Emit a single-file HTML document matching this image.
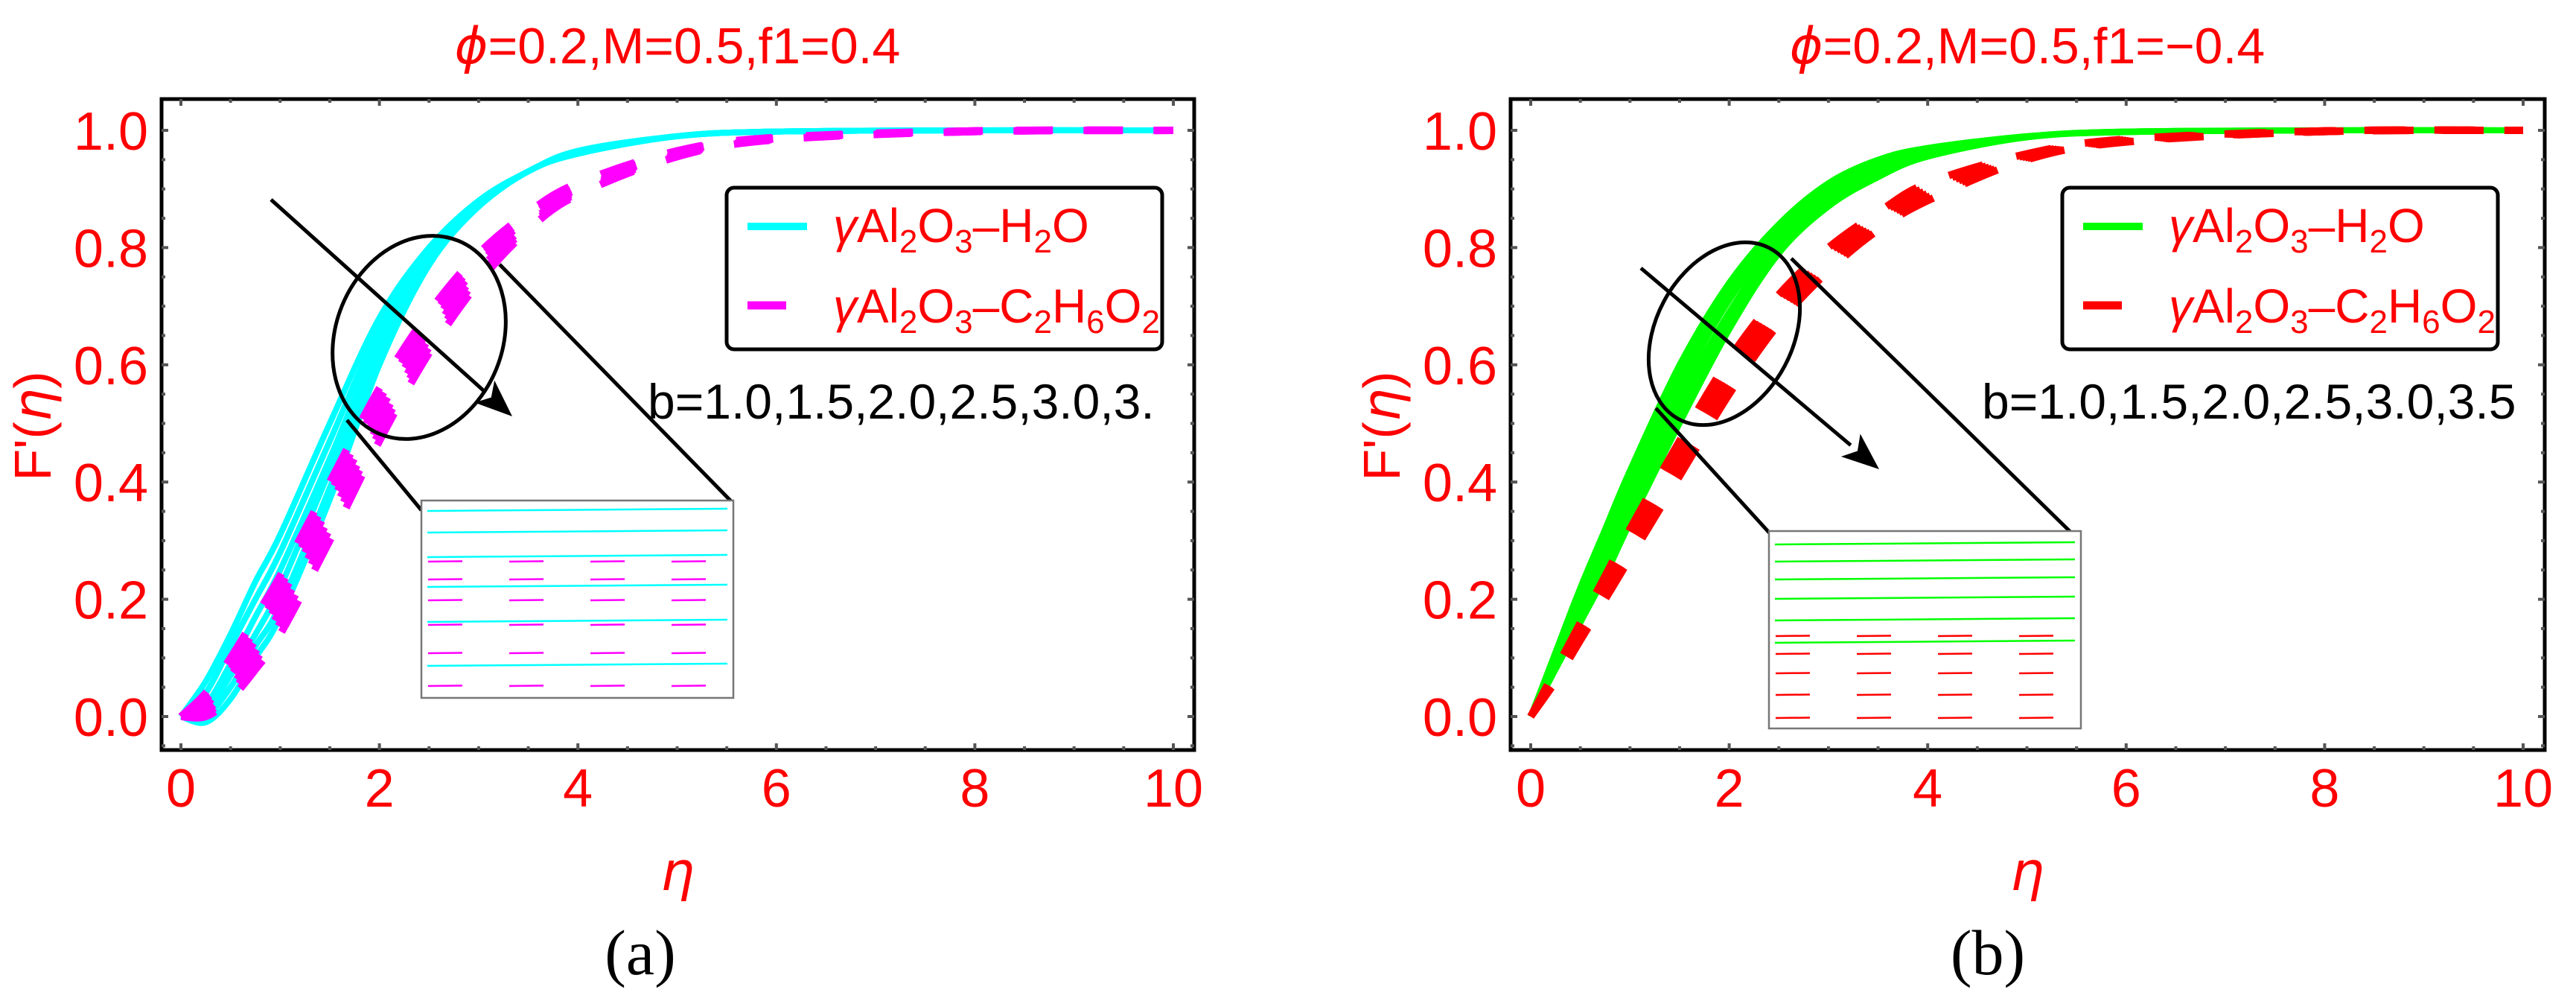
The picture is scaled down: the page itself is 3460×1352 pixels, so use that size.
<!DOCTYPE html>
<html><head><meta charset="utf-8"><style>
html,body{margin:0;padding:0;background:#fff;}
svg{display:block;font-family:"Liberation Sans",sans-serif;}
</style></head><body>
<svg id="fig" xmlns="http://www.w3.org/2000/svg" width="3460" height="1352" viewBox="0 0 3460 1352">
<rect width="3460" height="1352" fill="#fff"/>
</svg>
<script>
// ---- data ----
const etaGrid = [0,0.25,0.5,0.75,1,1.5,2,2.5,3,3.5,4,5,6,8,10];
const bValues = ["1.0","1.5","2.0","2.5","3.0","3.5"];
const cyanA = [
 [0,0.06,0.14,0.23,0.31,0.50,0.68,0.80,0.88,0.93,0.965,0.99,0.998,1,1],
 [0,0.04,0.12,0.20,0.28,0.47,0.66,0.79,0.875,0.93,0.963,0.99,0.998,1,1],
 [0,0.02,0.09,0.17,0.25,0.44,0.64,0.785,0.872,0.93,0.962,0.99,0.998,1,1],
 [0,0.01,0.07,0.14,0.22,0.42,0.62,0.78,0.87,0.93,0.961,0.99,0.998,1,1],
 [0,0.0,0.05,0.12,0.19,0.39,0.61,0.775,0.87,0.93,0.96,0.99,0.998,1,1],
 [0,-0.01,0.03,0.10,0.17,0.37,0.60,0.77,0.87,0.93,0.96,0.99,0.998,1,1]];
const magentaA = [
 [0,0.04,0.10,0.17,0.24,0.40,0.56,0.69,0.79,0.86,0.91,0.965,0.988,0.999,1],
 [0,0.03,0.08,0.15,0.22,0.38,0.54,0.675,0.78,0.855,0.905,0.963,0.987,0.999,1],
 [0,0.02,0.07,0.13,0.20,0.36,0.52,0.66,0.77,0.85,0.90,0.961,0.986,0.999,1],
 [0,0.01,0.05,0.11,0.18,0.34,0.50,0.645,0.76,0.84,0.897,0.959,0.985,0.998,1],
 [0,0.005,0.04,0.095,0.16,0.32,0.485,0.63,0.75,0.835,0.893,0.957,0.985,0.998,1],
 [0,0.0,0.03,0.08,0.14,0.30,0.47,0.62,0.74,0.83,0.89,0.955,0.984,0.998,1]];
const greenB = [
 [0,0.11,0.22,0.32,0.42,0.60,0.74,0.84,0.91,0.95,0.97,0.99,0.998,1,1],
 [0,0.105,0.21,0.305,0.40,0.58,0.725,0.83,0.90,0.943,0.967,0.99,0.998,1,1],
 [0,0.10,0.20,0.29,0.385,0.56,0.71,0.82,0.893,0.937,0.964,0.989,0.998,1,1],
 [0,0.095,0.185,0.27,0.365,0.54,0.69,0.81,0.885,0.931,0.961,0.989,0.997,1,1],
 [0,0.088,0.17,0.255,0.345,0.52,0.675,0.80,0.877,0.925,0.958,0.988,0.997,1,1],
 [0,0.08,0.16,0.24,0.33,0.50,0.66,0.79,0.87,0.92,0.955,0.988,0.997,1,1]];
const redB = [
 [0,0.08,0.16,0.24,0.32,0.47,0.61,0.72,0.80,0.86,0.91,0.96,0.985,0.999,1],
 [0,0.076,0.154,0.232,0.31,0.458,0.598,0.71,0.792,0.854,0.904,0.958,0.984,0.999,1],
 [0,0.072,0.148,0.224,0.30,0.446,0.586,0.70,0.784,0.848,0.898,0.956,0.983,0.999,1],
 [0,0.068,0.142,0.216,0.29,0.434,0.574,0.69,0.776,0.842,0.892,0.954,0.982,0.998,1],
 [0,0.064,0.136,0.208,0.28,0.422,0.562,0.68,0.768,0.836,0.886,0.952,0.981,0.998,1],
 [0,0.06,0.13,0.20,0.27,0.41,0.55,0.67,0.76,0.83,0.88,0.95,0.98,0.998,1]];
const xTicks = [0,2,4,6,8,10];
const yTicks = ["0.0","0.2","0.4","0.6","0.8","1.0"];

const NS="http://www.w3.org/2000/svg";
const svg=document.getElementById('fig');
function mk(tag,attrs,parent){const e=document.createElementNS(NS,tag);for(const k in attrs)e.setAttribute(k,attrs[k]);(parent||svg).appendChild(e);return e;}

function catmull(pts){let d="M"+pts[0][0].toFixed(1)+","+pts[0][1].toFixed(1);
 for(let i=0;i<pts.length-1;i++){const p0=pts[Math.max(0,i-1)],p1=pts[i],p2=pts[i+1],p3=pts[Math.min(pts.length-1,i+2)];
  const c1=[p1[0]+(p2[0]-p0[0])/6,p1[1]+(p2[1]-p0[1])/6],c2=[p2[0]-(p3[0]-p1[0])/6,p2[1]-(p3[1]-p1[1])/6];
  d+="C"+c1[0].toFixed(1)+","+c1[1].toFixed(1)+" "+c2[0].toFixed(1)+","+c2[1].toFixed(1)+" "+p2[0].toFixed(1)+","+p2[1].toFixed(1);}
 return d;}

const GREEK='style="font-family:\'DejaVu Sans\',sans-serif;font-style:italic"';
function panel(cfg){
 const g=mk('g',{});
 
 
 const x0=cfg.x0,x10=cfg.x10,y0=962,y1=175;
 const X=v=>x0+(x10-x0)*v/10, Y=v=>y0+(y1-y0)*v;
 const t=mk('text',{x:cfg.titleX,y:85,'font-size':68,fill:'#f00','text-anchor':'middle'},g);
 
 
 t.innerHTML='<tspan '+GREEK+'>ϕ</tspan>'+cfg.title;
 const cg=mk('g',{},g);
 
 
 cfg.solid.forEach((s,i)=>{const p=mk('path',{d:catmull(etaGrid.map((e,j)=>[X(e),Y(s[j])])),fill:'none',stroke:cfg.c1,'stroke-width':8},cg);
  
  });
 cfg.dashed.forEach((s,i)=>{const p=mk('path',{d:catmull(etaGrid.map((e,j)=>[X(e),Y(s[j])])),fill:'none',stroke:cfg.c2,'stroke-width':10,'stroke-dasharray':'48 46'},cg);
  
  });
 const fr=mk('rect',{x:cfg.fl,y:133,width:cfg.fr-cfg.fl,height:1007-133,fill:'none',stroke:'#000','stroke-width':5},g);
 
 
 for(let v=0;v<=10.001;v+=0.5){const maj=Math.abs(v-Math.round(v/2)*2)<1e-6;const L=maj?9:5;
  mk('line',{x1:X(v),x2:X(v),y1:1007,y2:1007-L,stroke:'#555','stroke-width':4},g);
  mk('line',{x1:X(v),x2:X(v),y1:133,y2:133+L,stroke:'#555','stroke-width':4},g);}
 for(let k=-1;k<=21;k++){const v=k*0.05;const yy=Y(v);if(yy<136||yy>1004)continue;const maj=k%4===0;const L=maj?9:5;
  mk('line',{x1:cfg.fl,x2:cfg.fl+L,y1:yy,y2:yy,stroke:'#555','stroke-width':4},g);
  mk('line',{x1:cfg.fr,x2:cfg.fr-L,y1:yy,y2:yy,stroke:'#555','stroke-width':4},g);}
 xTicks.forEach(v=>{const t=mk('text',{x:X(v),y:1083,'font-size':72,fill:'#f00','text-anchor':'middle'},g);t.textContent=v;
  
  });
 yTicks.forEach(v=>{const t=mk('text',{x:cfg.fl-18,y:Y(+v)+26,'font-size':72,fill:'#f00','text-anchor':'end'},g);t.textContent=v;
  
  });
 const xl=mk('text',{x:cfg.titleX,y:1195,'font-size':72,fill:'#f00','text-anchor':'middle',style:"font-family:'DejaVu Sans',sans-serif;font-style:italic"},g);xl.textContent='η';
 
 
 const yl=mk('text',{x:0,y:0,'font-size':70,fill:'#f00','text-anchor':'middle',transform:`translate(${cfg.ylX},572) rotate(-90)`},g);
 yl.innerHTML='F\'(<tspan '+GREEK+'>η</tspan>)';
 
 
 const cap=mk('text',{x:cfg.capX,y:1308,'font-size':86,fill:'#000','text-anchor':'middle',style:"font-family:'Liberation Serif',serif"},g);cap.textContent=cfg.cap;
 
 
 const lg=mk('g',{},g);
 
 
 mk('rect',{x:cfg.lx,y:252,width:585,height:217,rx:10,fill:'#fff',stroke:'#000','stroke-width':5},lg);
 mk('line',{x1:cfg.lx+28,x2:cfg.lx+108,y1:304,y2:304,stroke:cfg.c1,'stroke-width':10},lg);
 mk('line',{x1:cfg.lx+28,x2:cfg.lx+80,y1:410,y2:410,stroke:cfg.c2,'stroke-width':11},lg);
 const l1=mk('text',{x:cfg.lx+143,y:325,'font-size':64,fill:'#f00'},lg);
 l1.innerHTML='<tspan font-style="italic">γ</tspan>Al<tspan font-size="44" dy="14">2</tspan><tspan dy="-14">O</tspan><tspan font-size="44" dy="14">3</tspan><tspan dy="-14">–H</tspan><tspan font-size="44" dy="14">2</tspan><tspan dy="-14">O</tspan>';
 
 
 const l2=mk('text',{x:cfg.lx+143,y:433,'font-size':64,fill:'#f00'},lg);
 l2.innerHTML='<tspan font-style="italic">γ</tspan>Al<tspan font-size="44" dy="14">2</tspan><tspan dy="-14">O</tspan><tspan font-size="44" dy="14">3</tspan><tspan dy="-14">–C</tspan><tspan font-size="44" dy="14">2</tspan><tspan dy="-14">H</tspan><tspan font-size="44" dy="14">6</tspan><tspan dy="-14">O</tspan><tspan font-size="44" dy="14">2</tspan>';
 
 
 const bt=mk('text',{x:cfg.bx,y:562,'font-size':66,fill:'#000'},g);bt.textContent=cfg.btext;
 
 
 const an=mk('g',{fill:'none',stroke:'#000','stroke-width':5},g);
 
 
 mk('ellipse',{cx:cfg.el[0],cy:cfg.el[1],rx:cfg.el[2],ry:cfg.el[3],transform:`rotate(${cfg.el[4]} ${cfg.el[0]} ${cfg.el[1]})`},an);
 const a=cfg.arr;const ang=Math.atan2(a[3]-a[1],a[2]-a[0]);
 const bx=a[2]-50*Math.cos(ang),by=a[3]-50*Math.sin(ang);
 mk('line',{x1:a[0],y1:a[1],x2:bx,y2:by},an);
 mk('polygon',{points:`${a[2]},${a[3]} ${bx+20*Math.sin(ang)},${by-20*Math.cos(ang)} ${bx+12*Math.cos(ang)},${by+12*Math.sin(ang)} ${bx-20*Math.sin(ang)},${by+20*Math.cos(ang)}`,fill:'#000',stroke:'none'},an);
 cfg.conn.forEach(c=>mk('line',{x1:c[0],y1:c[1],x2:c[2],y2:c[3]},an));
 const ins=mk('g',{},g);
 
 
 const I=cfg.inset;
 mk('rect',{x:I[0],y:I[1],width:I[2],height:I[3],fill:'#fff',stroke:'#777','stroke-width':2.5},ins);
 cfg.insSolid.forEach(yy=>mk('line',{x1:I[0]+8,x2:I[0]+I[2]-8,y1:yy+1,y2:yy-2,stroke:cfg.c1,'stroke-width':2.5},ins));
 cfg.insDash.forEach(yy=>{for(let k=0;k<4;k++){const xs=I[0]+9+k*109;mk('line',{x1:xs,x2:xs+46,y1:yy,y2:yy-0.5,stroke:cfg.c2,'stroke-width':2.5},ins);}});
}

panel({name:'panel-a',x0:243,x10:1576,fl:217,fr:1604,titleX:910,title:'=0.2,M=0.5,f1=0.4',c1:'#00ffff',c2:'#ff00ff',
 solid:cyanA,dashed:magentaA,ylX:68,capX:860,cap:'(a)',lx:976,bx:870,btext:'b=1.0,1.5,2.0,2.5,3.0,3.',
 el:[563,453,112,140,22],arr:[364,268,688,559],conn:[[671,355,984,675],[466,564,566,685]],
 inset:[566,672,419,265],insSolid:[685,714,747,787,834,893],insDash:[754,778,806,839,877,921]});
panel({name:'panel-b',x0:2056,x10:3389,fl:2029,fr:3418,titleX:2723,title:'=0.2,M=0.5,f1=−0.4',c1:'#00ff00',c2:'#ff0000',
 solid:greenB,dashed:redB,ylX:1880,capX:2670,cap:'(b)',lx:2770,bx:2662,btext:'b=1.0,1.5,2.0,2.5,3.0,3.5',
 el:[2316,448,92,130,28],arr:[2204,360,2524,630],conn:[[2406,347,2791,724],[2224,548,2378,717]],
 inset:[2376,713,419,265],insSolid:[730,753,777,803,832,862],insDash:[854,878,904,933,964]});
</script>
</body></html>
